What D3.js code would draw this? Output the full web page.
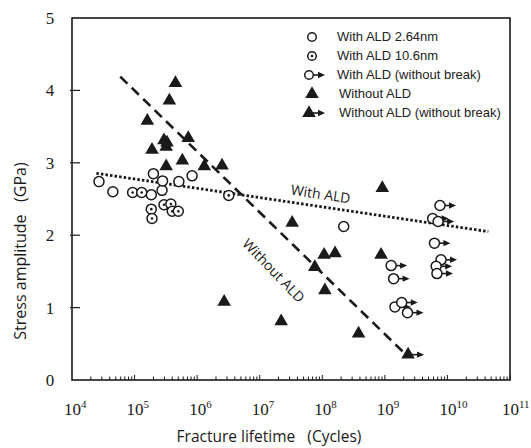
<!DOCTYPE html>
<html>
<head>
<meta charset="utf-8">
<script src="https://cdn.jsdelivr.net/npm/d3@7"></script>
<style>
  body { margin: 0; background: #fff; }
  svg { display: block; }
</style>
</head>
<body>
<svg id="chart" width="531" height="448"></svg>
<script>
// [cycles, stress GPa]
var withAld264 = [
  [2.7e4, 2.74], [4.5e4, 2.60], [1.85e5, 2.56], [2.75e5, 2.62],
  [2.0e5, 2.85], [2.8e5, 2.75], [5.1e5, 2.74], [8.3e5, 2.82], [2.2e8, 2.12]
]
var withAld106 = [
  [9.3e4, 2.59], [1.3e5, 2.59], [1.85e5, 2.36], [1.9e5, 2.23],
  [2.95e5, 2.42], [3.8e5, 2.43], [4.0e5, 2.33], [5.0e5, 2.33], [3.2e6, 2.55]
]
var withAldRunout = [
  [7.6e9, 2.41], [5.8e9, 2.23], [7.1e9, 2.19], [6.2e9, 1.89],
  [7.9e9, 1.66], [6.6e9, 1.57], [6.8e9, 1.47], [1.26e9, 1.58],
  [1.38e9, 1.40], [1.45e9, 1.01], [1.86e9, 1.07], [2.3e9, 0.93]
]
var withoutAld = [
  [4.5e5, 4.10], [3.6e5, 3.86], [1.6e5, 3.58], [2.95e5, 3.31],
  [3.3e5, 3.28], [3.2e5, 3.22], [7.2e5, 3.34], [1.9e5, 3.18],
  [5.8e5, 3.03], [3.2e5, 2.95], [1.3e6, 2.95], [2.5e6, 2.96],
  [2.7e6, 1.08], [2.2e7, 0.81], [3.3e7, 2.17], [9.1e8, 2.65],
  [8.7e8, 1.73], [1.07e8, 1.73], [1.6e8, 1.75], [7.6e7, 1.56],
  [1.1e8, 1.24], [3.8e8, 0.64]
]
var withoutAldRunout = [[2.35e9, 0.35]]

var withTrend = [[2.45e4, 2.855], [4.5e10, 2.05]]
var withoutTrend = [[5.9e4, 4.19], [2.0e9, 0.38]]

var xTicks = [1e4, 1e5, 1e6, 1e7, 1e8, 1e9, 1e10, 1e11]
var yTicks = [0, 1, 2, 3, 4, 5]

var legendItems = [
  { type: 'circle', text: 'With ALD 2.64nm' },
  { type: 'dot', text: 'With ALD 10.6nm' },
  { type: 'circleArrow', text: 'With ALD (without break)' },
  { type: 'tri', text: 'Without ALD' },
  { type: 'triArrow', text: 'Without ALD (without break)' }
]

;(function() {
  var svg = d3.select('#chart'),
    pLeft = 72,
    pRight = 510,
    pTop = 18,
    pBottom = 380,
    ink = '#1a1a1a'

  var x = d3.scaleLog().domain([1e4, 1e11]).range([pLeft, pRight])
  var y = d3.scaleLinear().domain([0, 5]).range([pBottom, pTop])

  // frame
  svg
    .append('rect')
    .attr('x', pLeft)
    .attr('y', pTop)
    .attr('width', pRight - pLeft)
    .attr('height', pBottom - pTop)
    .attr('fill', 'none')
    .attr('stroke', ink)
    .attr('stroke-width', 1.6)

  // x minor/major ticks (inside)
  var minor = []
  for (var e = 4; e < 11; e++) {
    for (var m = 2; m <= 10; m++) minor.push(m * Math.pow(10, e))
  }
  svg
    .append('g')
    .selectAll('line')
    .data(minor)
    .enter()
    .append('line')
    .attr('x1', x)
    .attr('x2', x)
    .attr('y1', pBottom)
    .attr('y2', function(d, i) {
      return i % 9 === 8 ? pBottom - 5 : pBottom - 3.5
    })
    .attr('stroke', ink)
    .attr('stroke-width', 1)

  // y ticks (inside)
  svg
    .append('g')
    .selectAll('line')
    .data(yTicks.slice(1, 5))
    .enter()
    .append('line')
    .attr('x1', pLeft - 2)
    .attr('x2', pLeft + 8)
    .attr('y1', y)
    .attr('y2', y)
    .attr('stroke', ink)
    .attr('stroke-width', 1.2)

  // y tick labels
  svg
    .append('g')
    .selectAll('text')
    .data(yTicks)
    .enter()
    .append('text')
    .attr('x', 50)
    .attr('y', function(d) {
      return y(d) + 6
    })
    .attr('text-anchor', 'middle')
    .attr('font-family', 'Liberation Serif, serif')
    .attr('font-size', 17)
    .attr('fill', ink)
    .text(function(d) {
      return d
    })

  // x tick labels 10^n
  var xl = svg
    .append('g')
    .selectAll('text')
    .data(xTicks)
    .enter()
    .append('text')
    .attr('x', function(d) {
      return x(d) - 8
    })
    .attr('y', 415)
    .attr('font-family', 'Liberation Serif, serif')
    .attr('font-size', 17)
    .attr('fill', ink)
  xl.append('tspan').text('10')
  xl.append('tspan')
    .attr('font-size', 11)
    .attr('dy', -7)
    .text(function(d) {
      return Math.round(Math.log10(d))
    })

  // axis titles
  svg
    .append('text')
    .attr('x', 269)
    .attr('y', 442)
    .attr('text-anchor', 'middle')
    .attr('font-family', 'Open Sans, sans-serif')
    .attr('font-size', 15.5)
    .attr('fill', ink)
    .attr('xml:space', 'preserve')
    .text('Fracture lifetime   (Cycles)')
  svg
    .append('text')
    .attr('transform', 'translate(26,251) rotate(-90)')
    .attr('text-anchor', 'middle')
    .attr('font-family', 'Open Sans, sans-serif')
    .attr('font-size', 16)
    .attr('fill', ink)
    .attr('xml:space', 'preserve')
    .text('Stress amplitude   (GPa)')

  // trend lines
  var line = d3
    .line()
    .x(function(d) {
      return x(d[0])
    })
    .y(function(d) {
      return y(d[1])
    })
  svg
    .append('path')
    .attr('d', line(withTrend))
    .attr('fill', 'none')
    .attr('stroke', ink)
    .attr('stroke-width', 2.8)
    .attr('stroke-dasharray', '2.5,2.1')
  svg
    .append('path')
    .attr('d', line(withoutTrend))
    .attr('fill', 'none')
    .attr('stroke', ink)
    .attr('stroke-width', 2.6)
    .attr('stroke-dasharray', '10,6')

  svg
    .append('text')
    .attr('transform', 'translate(320,199) rotate(8.5)')
    .attr('text-anchor', 'middle')
    .attr('font-family', 'Open Sans, sans-serif')
    .attr('font-size', 14)
    .attr('fill', ink)
    .text('With ALD')
  svg
    .append('text')
    .attr('transform', 'translate(270,274) rotate(46)')
    .attr('text-anchor', 'middle')
    .attr('font-family', 'Open Sans, sans-serif')
    .attr('font-size', 14)
    .attr('fill', ink)
    .text('Without ALD')

  // markers
  var tri = d3.symbol().type(d3.symbolTriangle).size(80)()

  function drawMarker(g, type, r) {
    if (type === 'circleArrow' || type === 'triArrow') {
      g.append('line')
        .attr('x1', 0)
        .attr('x2', 10)
        .attr('y1', 0)
        .attr('y2', 0)
        .attr('stroke', ink)
        .attr('stroke-width', 1.6)
      g.append('path')
        .attr('d', 'M9,-3.2L16,0L9,3.2Z')
        .attr('fill', ink)
    }
    if (type === 'tri' || type === 'triArrow') {
      g.append('path').attr('d', tri).attr('fill', ink)
    } else {
      g.append('circle')
        .attr('r', r)
        .attr('fill', '#fff')
        .attr('stroke', ink)
        .attr('stroke-width', 1.5)
      if (type === 'dot') {
        g.append('circle').attr('r', 1.3).attr('fill', ink)
      }
    }
  }

  function plotSeries(data, type) {
    svg
      .append('g')
      .selectAll('g')
      .data(data)
      .enter()
      .append('g')
      .attr('transform', function(d) {
        return 'translate(' + x(d[0]) + ',' + y(d[1]) + ')'
      })
      .each(function() {
        drawMarker(d3.select(this), type, 5)
      })
  }

  plotSeries(withAld264, 'circle')
  plotSeries(withAld106, 'dot')
  plotSeries(withAldRunout, 'circleArrow')
  plotSeries(withoutAld, 'tri')
  plotSeries(withoutAldRunout, 'triArrow')

  // legend
  var lg = svg
    .append('g')
    .selectAll('g')
    .data(legendItems)
    .enter()
    .append('g')
    .attr('transform', function(d, i) {
      return 'translate(' + (d.type.indexOf('Arrow') > 0 ? 309 : 312) + ',' + (37 + i * 19) + ')'
    })
  lg.each(function(d) {
    drawMarker(d3.select(this), d.type, 4.3)
  })
  lg.append('text')
    .attr('x', function(d) {
      return (d.type.indexOf('Arrow') > 0 ? 28 : 25) + (d.type.indexOf('tri') === 0 ? 2 : 0)
    })
    .attr('y', 4)
    .attr('font-family', 'Liberation Sans, Arial, sans-serif')
    .attr('font-size', 13)
    .attr('fill', '#222')
    .text(function(d) {
      return d.text
    })
})()
</script>
</body>
</html>
